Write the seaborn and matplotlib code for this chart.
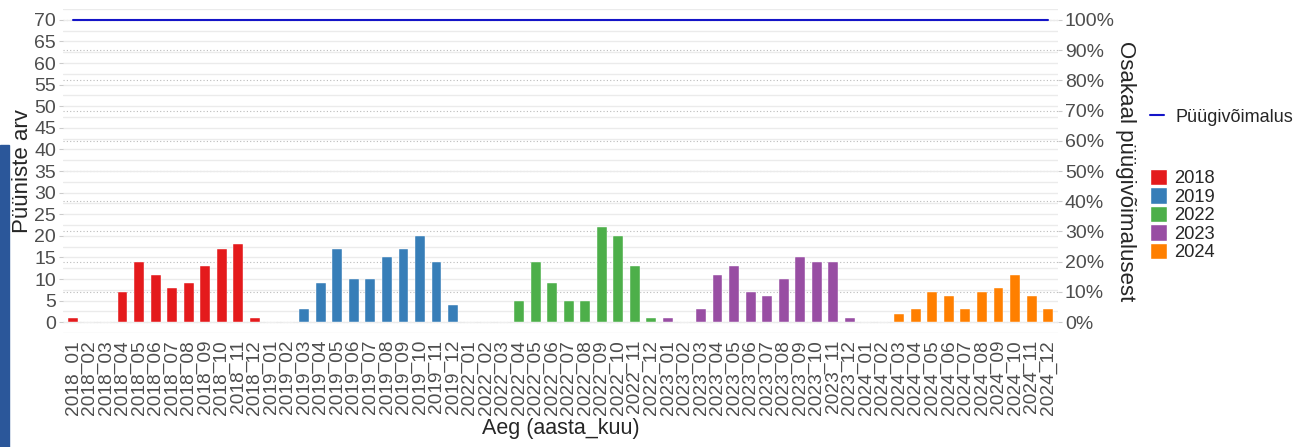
import numpy as np
import pandas as pd
import matplotlib.pyplot as plt
import seaborn as sns
from matplotlib.lines import Line2D
from matplotlib.patches import Patch, Rectangle
from matplotlib.ticker import PercentFormatter

# andmed (loetud pildilt)
years = ['2018', '2019', '2022', '2023', '2024']
months = ['01', '02', '03', '04', '05', '06', '07', '08', '09', '10', '11', '12']
counts_2018 = [1, 0, 0, 7, 14, 11, 8, 9, 13, 17, 18, 1]
counts_2019 = [0, 0, 3, 9, 17, 10, 10, 15, 17, 20, 14, 4]
counts_2022 = [0, 0, 0, 5, 14, 9, 5, 5, 22, 20, 13, 1]
counts_2023 = [1, 0, 3, 11, 13, 7, 6, 10, 15, 14, 14, 1]
counts_2024 = [0, 0, 2, 3, 7, 6, 3, 7, 8, 11, 6, 3]
pyygivoimalus = 70
year_colors = ['#E41A1C', '#377EB8', '#4DAF4A', '#984EA3', '#FF7F00']

all_counts = [counts_2018, counts_2019, counts_2022, counts_2023, counts_2024]
rows = []
for y, cnt in zip(years, all_counts):
    for m, c in zip(months, cnt):
        rows.append({'aeg': f'{y}_{m}', 'aasta': y, 'arv': c})
df = pd.DataFrame(rows)
df['pos'] = np.arange(len(df))
df['voimalus'] = pyygivoimalus

sns.set_style('white')
plt.rcParams['font.family'] = ['Liberation Sans', 'DejaVu Sans']

fig = plt.figure(figsize=(13.07, 4.47), dpi=100)
ax = fig.add_axes([63 / 1307, 1 - 333 / 447, (1058 - 63) / 1307, 324 / 447])

palette = dict(zip(years, year_colors))
sns.barplot(data=df, x='aeg', y='arv', hue='aasta', palette=palette, dodge=False,
            width=0.6, saturation=1, legend=False, ax=ax, zorder=2,
            edgecolor='white', linewidth=0.3)
sns.lineplot(data=df, x='pos', y='voimalus', color='#1414C8', lw=1.5,
             legend=False, ax=ax, zorder=3)

lo, hi = -2.5, 72.5
ax.set_ylim(lo, hi)
ax.set_xlim(-0.6, len(df) - 0.4)
ax.set_yticks(np.arange(0, 71, 5))
ax.set_yticks(np.arange(-2.5, 73, 5), minor=True)
ax.grid(axis='y', which='both', color='#EBEBEB', lw=1, zorder=0)
ax.grid(axis='x', visible=False)
# punktiirjooned parema telje jaotustel
for v in np.arange(0, 71, 7):
    ax.axhline(v, ls=(0, (1, 2)), color='#BBBBBB', lw=0.8, zorder=0.5)
for s in ax.spines.values():
    s.set_visible(False)

ax.tick_params(axis='y', which='major', labelsize=14, labelcolor='#4D4D4D',
               length=3, color='#CCCCCC', pad=2)
ax.tick_params(axis='y', which='minor', length=0)
ax.tick_params(axis='x', labelsize=13.8, labelcolor='#4D4D4D', rotation=90,
               length=0, pad=5)
ax.set_xlabel('Aeg (aasta_kuu)', fontsize=15.5, labelpad=2)
ax.set_ylabel('Püüniste arv', fontsize=16, labelpad=1)

ax2 = ax.twinx()
ax2.set_ylim(lo / pyygivoimalus, hi / pyygivoimalus)
ax2.set_yticks(np.arange(0, 1.01, 0.1))
ax2.yaxis.set_major_formatter(PercentFormatter(1.0, decimals=0))
ax2.grid(False)
for s in ax2.spines.values():
    s.set_visible(False)
ax2.tick_params(axis='y', labelsize=14, labelcolor='#4D4D4D', length=3,
                color='#CCCCCC', pad=2)
ax2.set_ylabel('Osakaal püügivõimalusest', fontsize=16, rotation=270,
               va='bottom', labelpad=0)

line_handle = [Line2D([0], [0], color='#1414C8', lw=1.5)]
fig.legend(handles=line_handle, labels=['Püügivõimalus'], loc='center left',
           bbox_to_anchor=(1150 / 1307, 1 - 117 / 447), frameon=False,
           handlelength=0.8, handletextpad=0.6, fontsize=13,
           borderpad=0, borderaxespad=0)

year_handles = [Patch(facecolor=c) for c in year_colors]
fig.legend(handles=year_handles, labels=years, loc='upper left',
           bbox_to_anchor=(1150 / 1307, 1 - 169 / 447), frameon=False,
           handlelength=0.9, handleheight=1.0, handletextpad=0.4,
           labelspacing=0.0, fontsize=13.2, borderpad=0, borderaxespad=0)

# sinine riba vasakul serval (ekraanipildi taust)
fig.patches.append(Rectangle((0, 0), 9 / 1307, 1 - 145 / 447,
                             transform=fig.transFigure, color='#2B579A',
                             zorder=-1))

plt.savefig('out.png', dpi=100)
